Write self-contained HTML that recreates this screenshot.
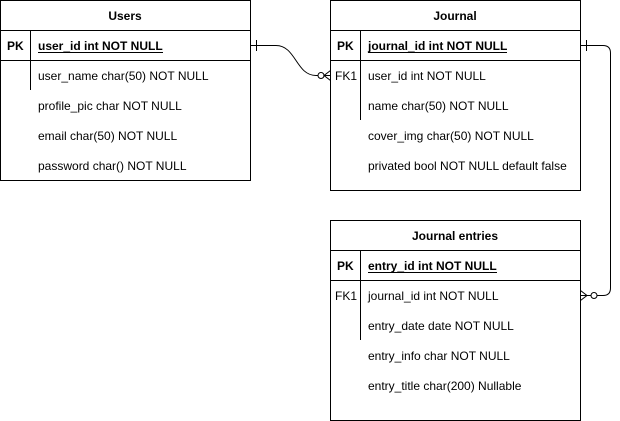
<!DOCTYPE html>
<html><head><style>
html,body{margin:0;padding:0;background:#fff;}
svg{display:block;}
text{font-family:"Liberation Sans",Arial,sans-serif;font-size:12px;fill:#000;}
.b{font-weight:bold;}
</style></head><body>
<svg width="620" height="421" viewBox="0 0 620 421" xmlns="http://www.w3.org/2000/svg">
<g fill="none" stroke="#000" stroke-width="1">
<rect x="0.5" y="0.5" width="250" height="180"/>
<line x1="0.5" y1="30.5" x2="250.5" y2="30.5"/>
<line x1="0.5" y1="60.5" x2="250.5" y2="60.5"/>
<line x1="30.5" y1="30.5" x2="30.5" y2="90"/>
<rect x="330.5" y="0.5" width="250" height="190"/>
<line x1="330.5" y1="30.5" x2="580.5" y2="30.5"/>
<line x1="330.5" y1="60.5" x2="580.5" y2="60.5"/>
<line x1="360.5" y1="30.5" x2="360.5" y2="120"/>
<rect x="330.5" y="220.5" width="250" height="200"/>
<line x1="330.5" y1="250.5" x2="580.5" y2="250.5"/>
<line x1="330.5" y1="280.5" x2="580.5" y2="280.5"/>
<line x1="360.5" y1="250.5" x2="360.5" y2="340"/>
<path d="M250.5 45.5 H276 C296 45.5 296 75.5 316 75.5 H318"/>
<line x1="256.5" y1="40" x2="256.5" y2="51"/>
<circle cx="321" cy="75.5" r="3"/>
<path d="M330.5 70.5 L324 75.5 L330.5 80.5 M324 75.5 H330.5"/>
<path d="M580.5 45.5 H603 Q610.5 45.5 610.5 53 V288 Q610.5 295.5 603 295.5 H597"/>
<line x1="586.5" y1="40" x2="586.5" y2="51"/>
<circle cx="594" cy="295.5" r="3"/>
<path d="M580.5 290.5 L587 295.5 L580.5 300.5 M580.5 295.5 H591"/>
</g>
<text x="125" y="20" text-anchor="middle" class="b">Users</text>
<text x="7" y="50" class="b">PK</text>
<text x="38" y="50" class="b">user_id int NOT NULL</text>
<line x1="38" y1="52.5" x2="163" y2="52.5" stroke="#000"/>
<text x="38" y="80">user_name char(50) NOT NULL</text>
<text x="38" y="110">profile_pic char NOT NULL</text>
<text x="38" y="140">email char(50) NOT NULL</text>
<text x="38" y="170">password char() NOT NULL</text>
<text x="455" y="20" text-anchor="middle" class="b">Journal</text>
<text x="337" y="50" class="b">PK</text>
<text x="368" y="50" class="b">journal_id int NOT NULL</text>
<line x1="368" y1="52.5" x2="507" y2="52.5" stroke="#000"/>
<text x="335" y="80">FK1</text>
<text x="368" y="80">user_id int NOT NULL</text>
<text x="368" y="110">name char(50) NOT NULL</text>
<text x="368" y="140">cover_img char(50) NOT NULL</text>
<text x="368" y="170">privated bool NOT NULL default false</text>
<text x="455" y="240" text-anchor="middle" class="b">Journal entries</text>
<text x="337" y="270" class="b">PK</text>
<text x="368" y="270" class="b">entry_id int NOT NULL</text>
<line x1="368" y1="272.5" x2="497" y2="272.5" stroke="#000"/>
<text x="335" y="300">FK1</text>
<text x="368" y="300">journal_id int NOT NULL</text>
<text x="368" y="330">entry_date date NOT NULL</text>
<text x="368" y="360">entry_info char NOT NULL</text>
<text x="368" y="390">entry_title char(200)  Nullable</text>
</svg>
</body></html>
